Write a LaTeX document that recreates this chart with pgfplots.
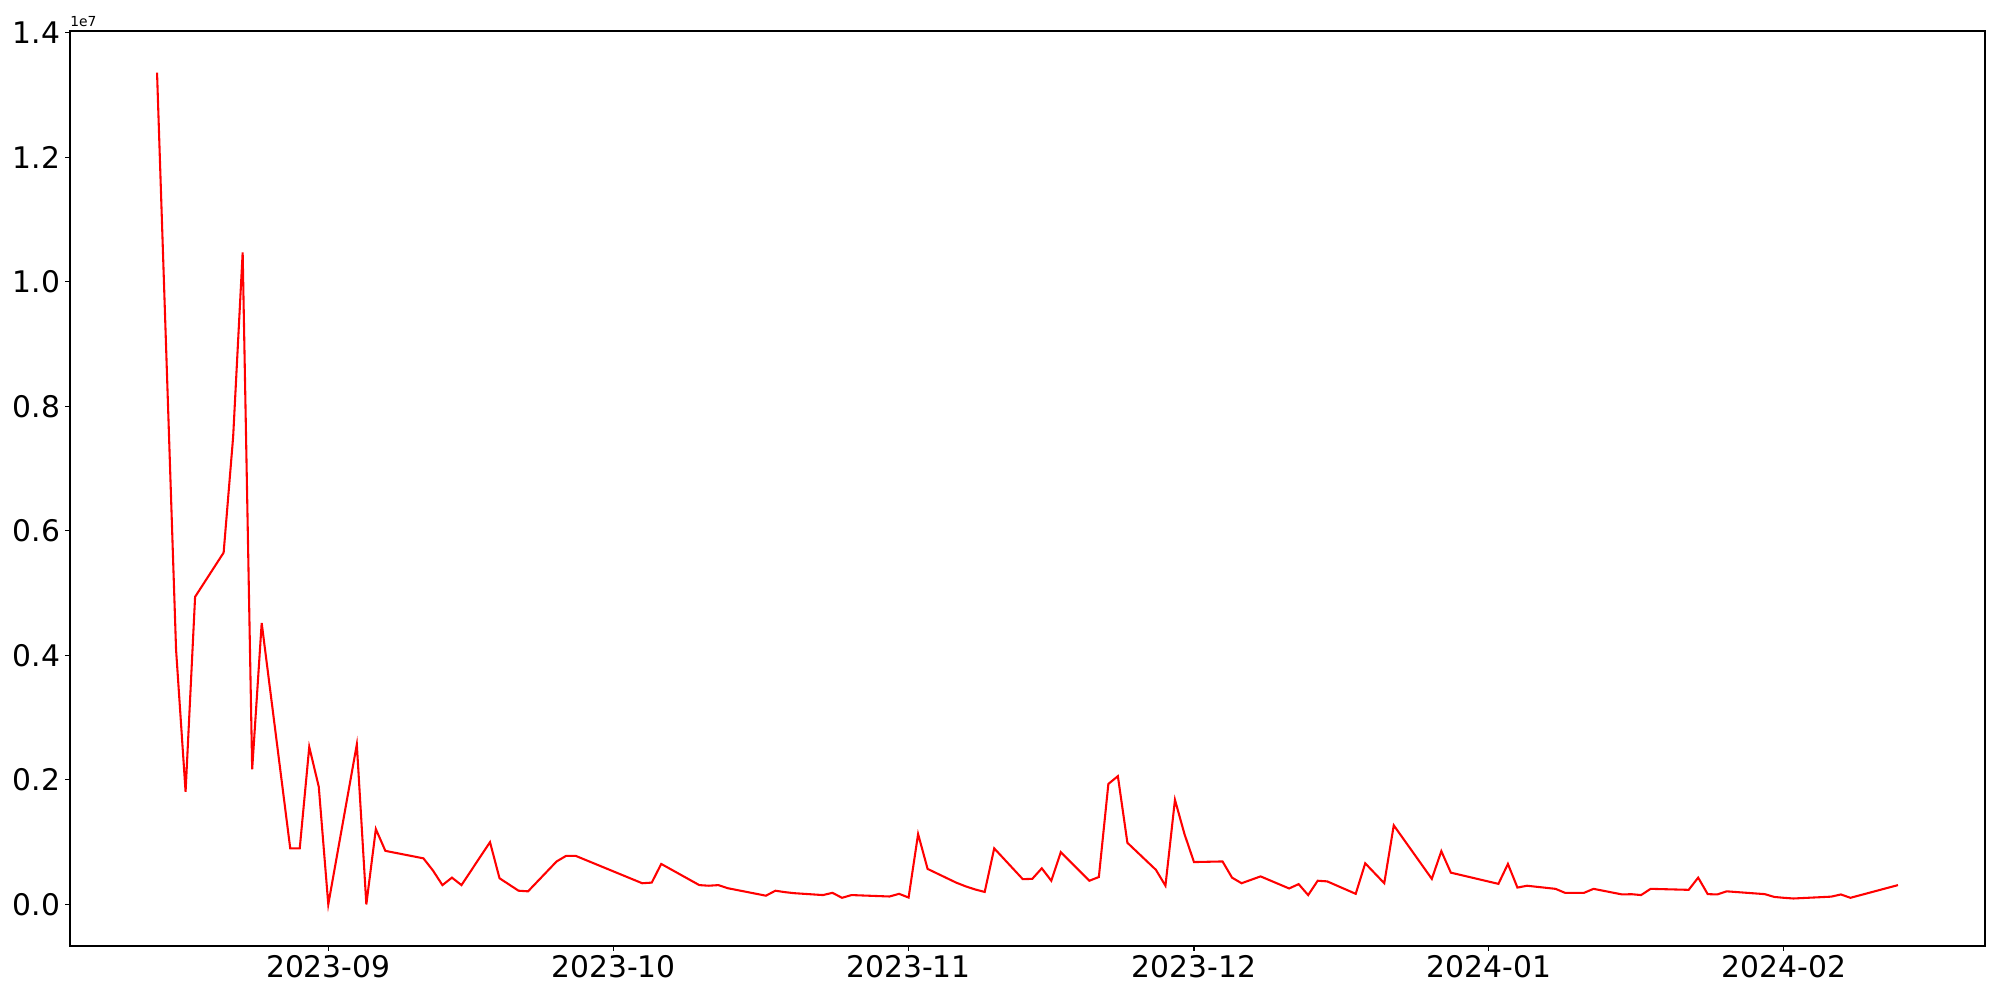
\documentclass[border=0pt]{standalone}
\usepackage{pgfplots}
\pgfplotsset{compat=1.18}
\usepackage{fontspec}
\setmainfont{DejaVu Sans}
\pgfplotstableread{
day val
-18 1.336
-16 0.409
-15 0.181
-14 0.494
-11 0.565
-10 0.751
-9 1.047
-8 0.217
-7 0.452
-4 0.090
-3 0.090
-2 0.253
-1 0.189
0 0.0
3 0.257
4 0.0
5 0.121
6 0.086
10 0.074
11 0.0545
12 0.031
13 0.043
14 0.031
17 0.100
18 0.042
20 0.022
21 0.021
24 0.069
25 0.078
26 0.078
33 0.034
34 0.035
35 0.065
39 0.031
40 0.030
41 0.031
42 0.026
46 0.014
47 0.022
48 0.0197
49 0.018
52 0.015
53 0.0186
54 0.0106
55 0.015
59 0.0127
60 0.017
61 0.011
62 0.113
63 0.057
66 0.035
67 0.029
68 0.024
69 0.020
70 0.090
73 0.0406
74 0.041
75 0.058
76 0.038
77 0.084
80 0.038
81 0.044
82 0.1935
83 0.206
84 0.099
87 0.0555
88 0.030
89 0.168
90 0.113
91 0.068
94 0.069
95 0.043
96 0.034
98 0.045
101 0.0256
102 0.0326
103 0.015
104 0.038
105 0.037
108 0.017
109 0.066
111 0.034
112 0.127
116 0.041
117 0.0855
118 0.051
123 0.033
124 0.065
125 0.027
126 0.030
129 0.025
130 0.0186
132 0.0186
133 0.025
136 0.016
137 0.0164
138 0.015
139 0.025
143 0.0234
144 0.043
145 0.0165
146 0.016
147 0.021
151 0.0165
152 0.012
153 0.0106
154 0.0095
157 0.0117
158 0.0125
159 0.016
160 0.0106
165 0.031
}\datatable
\begin{document}
\begin{tikzpicture}
\path[use as bounding box] (0,0) rectangle (20in,10in);
\begin{axis}[
  at={(0.70in,0.54in)}, anchor=south west,
  width=19.15in, height=9.15in, scale only axis,
  xmin=-27.15, xmax=174.15, ymin=-0.0668, ymax=1.4028,
  xtick={0,30,61,91,122,153},
  xticklabels={2023-09,2023-10,2023-11,2023-12,2024-01,2024-02},
  ytick={0,0.2,0.4,0.6,0.8,1.0,1.2,1.4},
  yticklabel style={/pgf/number format/.cd, fixed, fixed zerofill, precision=1},
  /pgf/number format/assume math mode=true,
  tick label style={font=\fontsize{21.5}{26}\selectfont},
  tick align=outside, tick pos=left, major tick length=3.5pt,
  axis line style={line width=0.8pt},
  every tick/.style={black, line width=0.8pt},
  clip mode=individual,
]
\addplot[red, line width=1.5pt, line join=miter, mark=none] table[x=day, y=val] {\datatable};
\end{axis}
\node[anchor=south west, inner sep=0pt, font=\fontsize{10}{12}\selectfont] at (0.70in,9.73in) {1e7};
\end{tikzpicture}
\end{document}
